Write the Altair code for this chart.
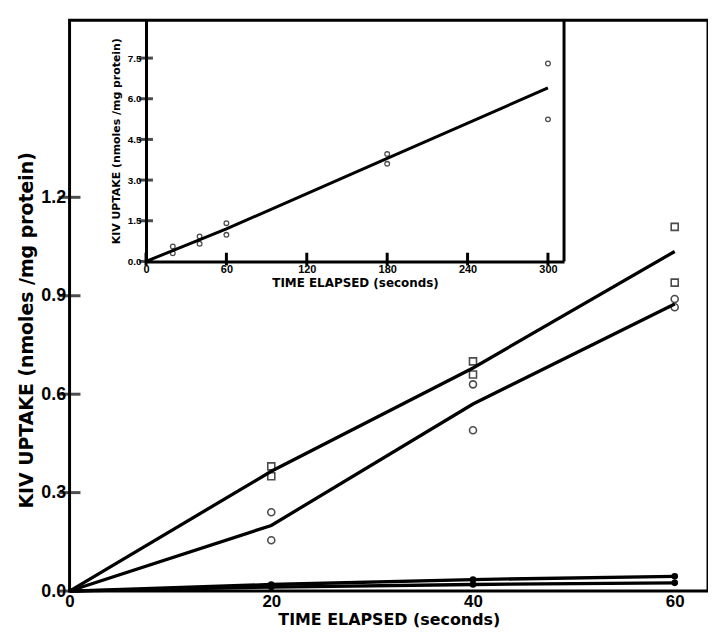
import altair as alt
import pandas as pd

# ---------------- main panel data ----------------
pt_time = [20, 20, 40, 40, 60, 60]
square_vals = [0.38, 0.35, 0.70, 0.66, 1.11, 0.94]
circle_vals = [0.24, 0.155, 0.63, 0.49, 0.89, 0.865]
line_time = [0, 20, 40, 60]
fit_square = [0, 0.365, 0.68, 1.035]
fit_circle = [0, 0.20, 0.57, 0.875]
base_upper = [0, 0.02, 0.035, 0.045]
base_lower = [0, 0.012, 0.02, 0.025]
main_x_ticks = [0, 20, 40, 60]
main_y_ticks = [0.0, 0.3, 0.6, 0.9, 1.2]

# ---------------- inset data ----------------
inset_time = [20, 20, 40, 40, 60, 60, 180, 180, 300, 300]
inset_vals = [0.3, 0.55, 0.65, 0.92, 0.98, 1.41, 3.6, 3.96, 5.24, 7.3]
inset_line_time = [0, 60, 180, 300]
inset_line_vals = [0, 1.2, 3.8, 6.4]
inset_x_ticks = [0, 60, 120, 180, 240, 300]
inset_y_ticks = [0.0, 1.5, 3.0, 4.5, 6.0, 7.5]

FONT = "Liberation Sans"
TFONT = "DejaVu Sans"

squares = pd.DataFrame({"t": pt_time, "v": square_vals})
circles = pd.DataFrame({"t": pt_time, "v": circle_vals})
lines = pd.DataFrame({
    "t": line_time * 4,
    "v": fit_square + fit_circle + base_upper + base_lower,
    "s": ["a"] * 4 + ["b"] * 4 + ["c"] * 4 + ["d"] * 4,
})
dots = pd.DataFrame({"t": line_time[1:] * 2, "v": base_upper[1:] + base_lower[1:]})
ytick_df = pd.DataFrame({"t": [0] * len(main_y_ticks), "v": main_y_ticks})

xs = alt.Scale(domain=[0, 63.3], nice=False, zero=False)
ys = alt.Scale(domain=[0, 1.74], nice=False, zero=False)

xax = alt.Axis(values=main_x_ticks, format="d", ticks=False, domain=False, grid=False,
               labelFont=FONT, labelFontSize=17, labelFontWeight="bold", labelColor="black",
               labelPadding=3, labelFlush=False, labelOverlap=False,
               title="TIME ELAPSED  (seconds)", titleFont=TFONT, titleFontSize=16,
               titleFontWeight="bold", titleColor="black", titlePadding=2)
yax = alt.Axis(values=main_y_ticks, format=".1f", ticks=False, domain=False, grid=False,
               labelFont=FONT, labelFontSize=18, labelFontWeight="bold", labelColor="black",
               labelPadding=4, labelOverlap=False,
               title="KIV UPTAKE  (nmoles /mg protein)", titleFont=TFONT, titleFontSize=19,
               titleFontWeight="bold", titleColor="black", titlePadding=4,
               titleY=312, titleAlign="center")

X = alt.X("t:Q", scale=xs, axis=xax)
Y = alt.Y("v:Q", scale=ys, axis=yax)

main_lines = alt.Chart(lines).mark_line(color="black", strokeWidth=3.3).encode(
    x=X, y=Y, detail="s:N")
main_sq = alt.Chart(squares).mark_point(shape="square", size=50, color="black",
                                         strokeWidth=1.6, filled=False).encode(x=X, y=Y)
main_ci = alt.Chart(circles).mark_point(shape="circle", size=50, color="black",
                                         strokeWidth=1.6, filled=False).encode(x=X, y=Y)
main_dots = alt.Chart(dots).mark_point(shape="circle", size=45, color="black",
                                        filled=True, opacity=1).encode(x=X, y=Y)
main_yticks = alt.Chart(ytick_df).mark_tick(orient="horizontal", size=22, thickness=3,
                                             color="black").encode(x=X, y=Y)

main = alt.layer(main_lines, main_sq, main_ci, main_dots, main_yticks)

# ---------------- inset ----------------
ipts = pd.DataFrame({"t": inset_time, "v": inset_vals})
iline = pd.DataFrame({"t": inset_line_time, "v": inset_line_vals})
ixt = pd.DataFrame({"t": inset_x_ticks, "v": [-0.15] * len(inset_x_ticks),
                    "v2": [0.32] * len(inset_x_ticks)})
iyt = pd.DataFrame({"t": [0] * len(inset_y_ticks), "v": inset_y_ticks})
iborder = pd.DataFrame({"t": [312], "v": [0], "v2": [8.9]})

ixs = alt.Scale(domain=[0, 312], range=[77, 498], nice=False, zero=False)
iys = alt.Scale(domain=[0, 8.9], range=[243, 0], nice=False, zero=False)

ixax = alt.Axis(orient="bottom", offset=-332, values=inset_x_ticks, format="d", ticks=False,
                domain=True, domainColor="black", domainWidth=3, grid=False,
                labelFont=FONT, labelFontSize=11, labelFontWeight="bold", labelColor="black",
                labelPadding=2, labelFlush=False, labelOverlap=False,
                title="TIME ELAPSED  (seconds)", titleFont=TFONT, titleFontSize=12,
                titleFontWeight="bold", titleColor="black", titlePadding=3)
iyax = alt.Axis(orient="left", offset=-77, values=inset_y_ticks, format=".1f", ticks=False,
                domain=True, domainColor="black", domainWidth=3, grid=False,
                labelFont=FONT, labelFontSize=10, labelFontWeight="bold", labelColor="black",
                labelPadding=5, labelOverlap=False,
                title="KIV UPTAKE (nmoles /mg protein)", titleFont=TFONT, titleFontSize=11,
                titleFontWeight="bold", titleColor="black", titlePadding=6)

IX = alt.X("t:Q", scale=ixs, axis=ixax)
IY = alt.Y("v:Q", scale=iys, axis=iyax)

in_line = alt.Chart(iline).mark_line(color="black", strokeWidth=3).encode(x=IX, y=IY)
in_pts = alt.Chart(ipts).mark_point(shape="circle", size=22, color="black",
                                    strokeWidth=1.3, filled=False).encode(x=IX, y=IY)
in_xt = alt.Chart(ixt).mark_rule(color="black", strokeWidth=3).encode(
    x=IX, y=IY, y2="v2:Q")
in_yt = alt.Chart(iyt).mark_tick(orient="horizontal", size=14, thickness=3,
                                 color="black").encode(x=IX, y=IY)
in_border = alt.Chart(iborder).mark_rule(color="black", strokeWidth=3).encode(
    x=IX, y=IY, y2="v2:Q")

inset = alt.layer(in_line, in_pts, in_xt, in_yt, in_border)

chart = alt.layer(main, inset).resolve_scale(x="independent", y="independent").properties(
    width=643, height=575,
    background="white",
    autosize=alt.AutoSizeParams(type="none"),
    padding={"left": 62, "top": 10, "right": 0, "bottom": 38},
).configure_view(stroke="black", strokeWidth=3)

chart.save("out.html", embed_options={"renderer": "svg", "actions": False})
